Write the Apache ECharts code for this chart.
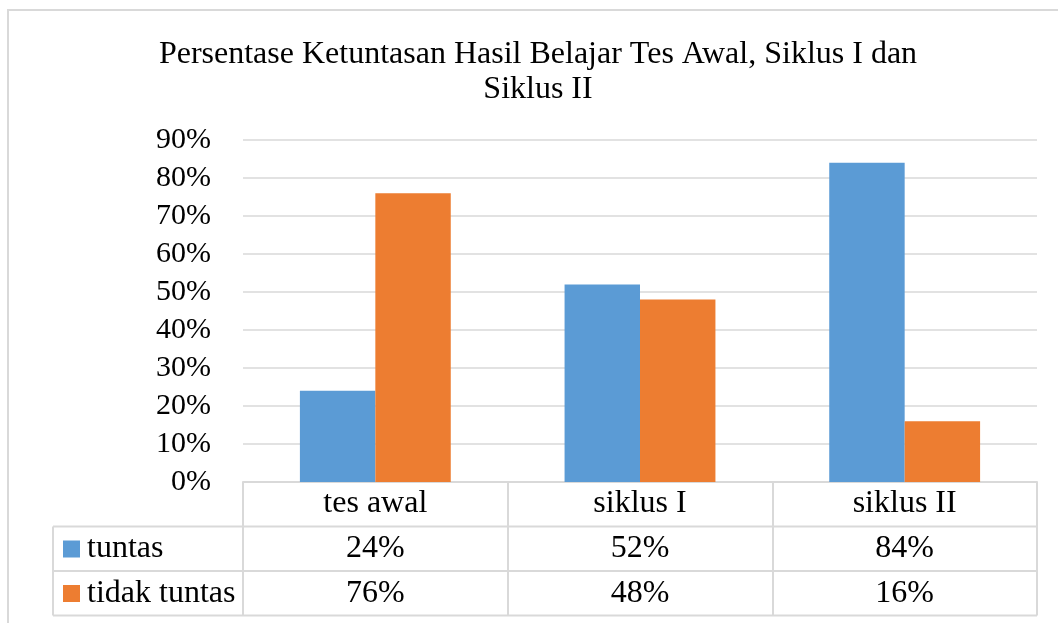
<!DOCTYPE html>
<html>
<head>
<meta charset="utf-8">
<script src="https://cdn.jsdelivr.net/npm/echarts@6/dist/echarts.min.js"></script>
<style>
  html, body { margin: 0; padding: 0; background: #fff; }
  #chart { width: 1058px; height: 623px; }
</style>
</head>
<body>
<div id="chart"></div>
<script>
var categories = ['tes awal', 'siklus I', 'siklus II'];
var tuntas = [24, 52, 84];
var tidakTuntas = [76, 48, 16];
var seriesNames = ['tuntas', 'tidak tuntas'];
var colors = ['#5B9BD5', '#ED7D31'];

var font = "'Liberation Serif', 'Times New Roman', serif";
var lineColor = '#D9D9D9';

var gridLeft = 243, gridRight = 21, gridTop = 140, gridBottom = 141;
var rowH = 44.5;

var chart = echarts.init(document.getElementById('chart'));

var option = {
    animation: false,
    textStyle: { fontFamily: font, color: '#000' },
    title: {
        text: 'Persentase Ketuntasan Hasil Belajar Tes Awal, Siklus I dan\nSiklus II',
        left: 533,
        top: 32,
        textAlign: 'center',
        textStyle: { fontFamily: font, fontSize: 32, fontWeight: 'normal', color: '#000', lineHeight: 35 }
    },
    grid: { left: gridLeft, right: gridRight, top: gridTop, bottom: gridBottom, containLabel: false },
    xAxis: {
        type: 'category',
        data: categories,
        axisLine: { lineStyle: { color: lineColor, width: 2 } },
        axisTick: { show: true, length: rowH * 3, lineStyle: { color: lineColor, width: 2 } },
        axisLabel: { fontFamily: font, fontSize: 32, color: '#000', margin: 6 }
    },
    yAxis: {
        type: 'value',
        min: 0,
        max: 90,
        interval: 10,
        axisLine: { show: false },
        axisTick: { show: false },
        splitLine: { lineStyle: { color: lineColor, width: 1.5 } },
        axisLabel: { fontFamily: font, fontSize: 30, color: '#000', margin: 32, formatter: '{value}%' }
    },
    series: [
        { name: seriesNames[0], type: 'bar', data: tuntas, barGap: '0%', barCategoryGap: '43%',
          itemStyle: { color: colors[0] } },
        { name: seriesNames[1], type: 'bar', data: tidakTuntas,
          itemStyle: { color: colors[1] } }
    ]
};
chart.setOption(option);

// data table below the axis
function buildTable() {
    var zeroY = chart.convertToPixel({ yAxisIndex: 0 }, 0);
    var rightX = 1058 - gridRight;
    var legendLeft = 53;
    var rows = [tuntas, tidakTuntas];
    var graphics = [];

    // outer chart border
    graphics.push({ type: 'rect', shape: { x: 8, y: 10, width: 1200, height: 800 },
        style: { fill: 'none', stroke: lineColor, lineWidth: 2 }, silent: true });

    for (var r = 0; r < rows.length; r++) {
        var rowTop = zeroY + rowH * (r + 1);
        graphics.push({ type: 'line', shape: { x1: legendLeft, y1: rowTop, x2: rightX, y2: rowTop },
            style: { stroke: lineColor, lineWidth: 2 } });
        graphics.push({ type: 'rect', shape: { x: 63, y: rowTop + 14, width: 17, height: 17 },
            style: { fill: colors[r] } });
        graphics.push({ type: 'text', x: 87, y: rowTop + rowH / 2,
            style: { text: seriesNames[r], fontFamily: font, fontSize: 32, fill: '#000', verticalAlign: 'middle' } });
        for (var c = 0; c < categories.length; c++) {
            var cx = chart.convertToPixel({ xAxisIndex: 0 }, categories[c]);
            graphics.push({ type: 'text', x: cx, y: rowTop + rowH / 2,
                style: { text: rows[r][c] + '%', fontFamily: font, fontSize: 32, fill: '#000',
                         align: 'center', verticalAlign: 'middle' } });
        }
    }
    var bottomY = zeroY + rowH * 3;
    graphics.push({ type: 'line', shape: { x1: legendLeft, y1: bottomY, x2: rightX, y2: bottomY },
        style: { stroke: lineColor, lineWidth: 2 } });
    graphics.push({ type: 'line', shape: { x1: legendLeft, y1: zeroY + rowH, x2: legendLeft, y2: bottomY },
        style: { stroke: lineColor, lineWidth: 2 } });

    chart.setOption({ graphic: graphics });
}
buildTable();
</script>
</body>
</html>
